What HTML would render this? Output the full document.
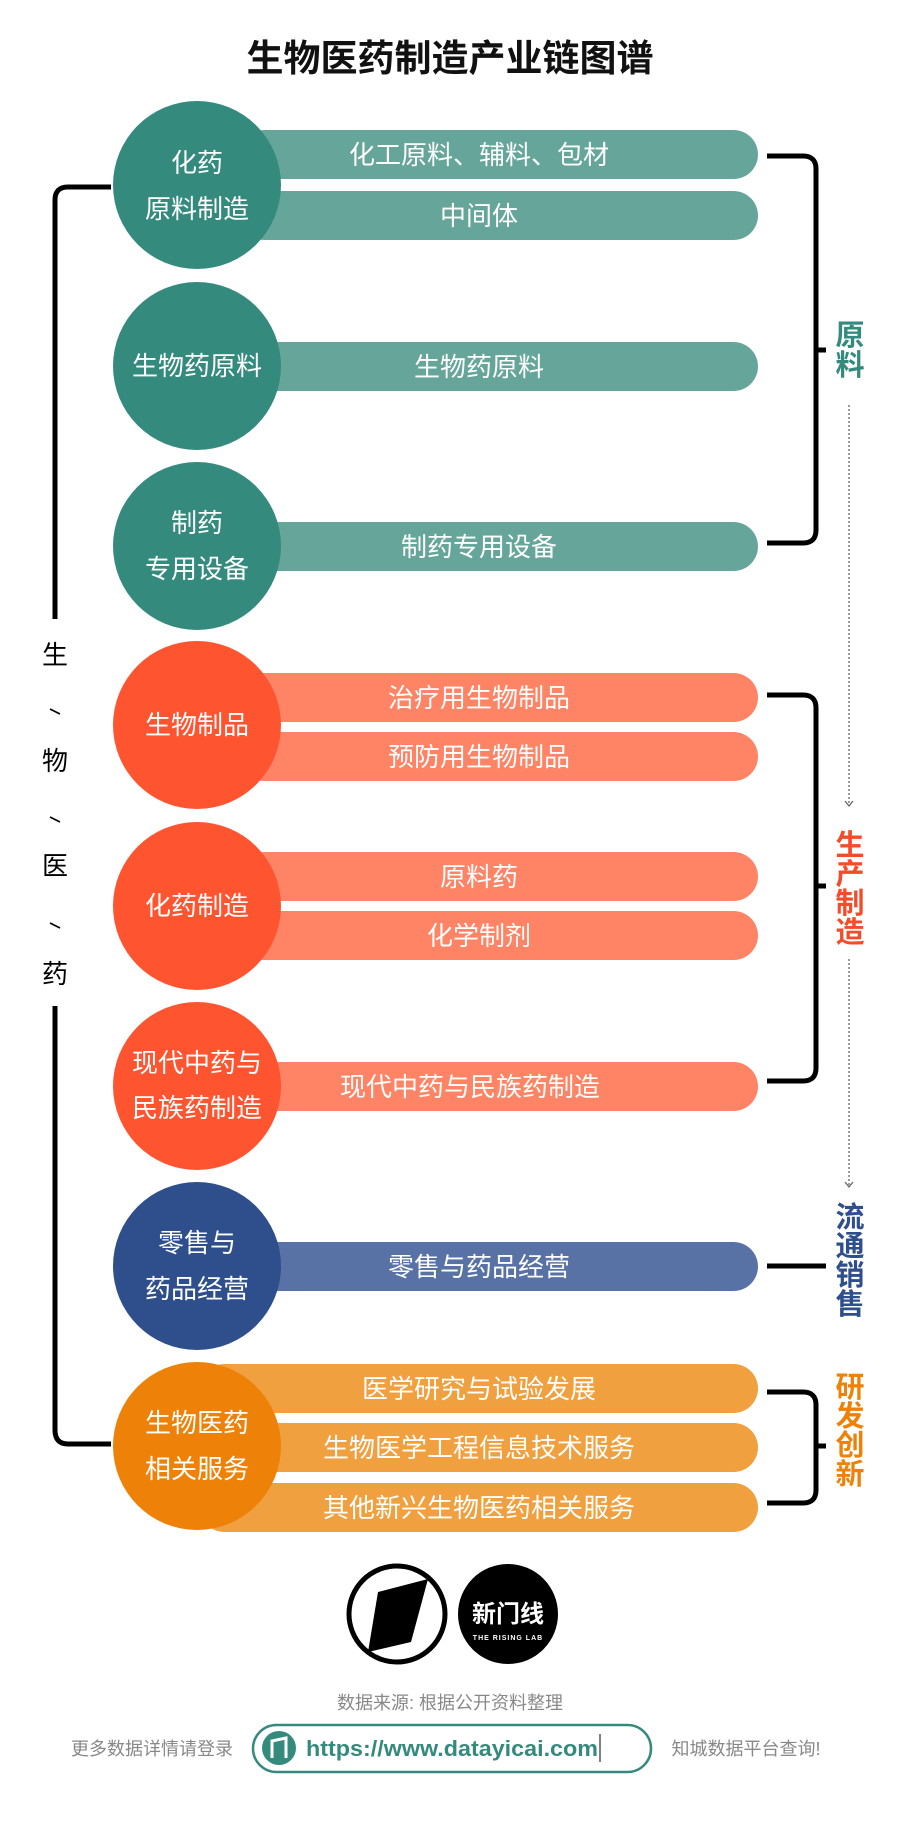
<!DOCTYPE html>
<html><head><meta charset="utf-8"><style>
html,body{margin:0;padding:0;background:#fff;}
svg{display:block;font-family:"Liberation Sans","Noto Sans CJK SC",sans-serif;}
</style></head><body>
<svg width="900" height="1824" viewBox="0 0 900 1824" xmlns="http://www.w3.org/2000/svg">
<rect width="900" height="1824" fill="#fff"/>
<text x="450" y="71" font-size="37" font-weight="bold" text-anchor="middle" fill="#111">生物医药制造产业链图谱</text>

<!-- left bracket -->
<path d="M111 187 H68 Q55 187 55 200 V619" fill="none" stroke="#000" stroke-width="5"/>
<path d="M55 1006 V1430 Q55 1444 68 1444 H111" fill="none" stroke="#000" stroke-width="5"/>
<g font-size="26" text-anchor="middle" fill="#000">
<text x="55" y="664">生</text>
<text x="55" y="770">物</text>
<text x="55" y="875">医</text>
<text x="55" y="983">药</text>
</g>
<g stroke="#000" stroke-width="1.6">
<path d="M50 709 L60 714"/><path d="M50 817 L60 822"/><path d="M50 923 L60 928"/>
</g>

<!-- bars -->
<g>
<rect x="240" y="130" width="518" height="49" rx="24.5" fill="#66a69a"/>
<rect x="240" y="191" width="518" height="49" rx="24.5" fill="#66a69a"/>
<rect x="240" y="342" width="518" height="49" rx="24.5" fill="#66a69a"/>
<rect x="240" y="522" width="518" height="49" rx="24.5" fill="#66a69a"/>
<rect x="240" y="673" width="518" height="49" rx="24.5" fill="#ff8466"/>
<rect x="240" y="732" width="518" height="49" rx="24.5" fill="#ff8466"/>
<rect x="240" y="852" width="518" height="49" rx="24.5" fill="#ff8466"/>
<rect x="240" y="911" width="518" height="49" rx="24.5" fill="#ff8466"/>
<rect x="240" y="1062" width="518" height="49" rx="24.5" fill="#ff8466"/>
<rect x="240" y="1242" width="518" height="49" rx="24.5" fill="#5872a6"/>
<rect x="200" y="1364" width="558" height="49" rx="24.5" fill="#f0a03e"/>
<rect x="240" y="1423" width="518" height="49" rx="24.5" fill="#f0a03e"/>
<rect x="200" y="1483" width="558" height="49" rx="24.5" fill="#f0a03e"/>
</g>
<g font-size="26" text-anchor="middle" fill="#fff">
<text x="479" y="164">化工原料、辅料、包材</text>
<text x="479" y="225">中间体</text>
<text x="479" y="376">生物药原料</text>
<text x="479" y="556">制药专用设备</text>
<text x="479" y="707">治疗用生物制品</text>
<text x="479" y="766">预防用生物制品</text>
<text x="479" y="886">原料药</text>
<text x="479" y="945">化学制剂</text>
<text x="470" y="1096">现代中药与民族药制造</text>
<text x="479" y="1276">零售与药品经营</text>
<text x="479" y="1398">医学研究与试验发展</text>
<text x="479" y="1457">生物医学工程信息技术服务</text>
<text x="479" y="1517">其他新兴生物医药相关服务</text>
</g>

<!-- circles -->
<circle cx="197" cy="185" r="84" fill="#358a7e"/>
<circle cx="197" cy="366" r="84" fill="#358a7e"/>
<circle cx="197" cy="546" r="84" fill="#358a7e"/>
<circle cx="197" cy="725" r="84" fill="#ff5430"/>
<circle cx="197" cy="906" r="84" fill="#ff5430"/>
<circle cx="197" cy="1086" r="84" fill="#ff5430"/>
<circle cx="197" cy="1266" r="84" fill="#2e4f8c"/>
<circle cx="197" cy="1446" r="84" fill="#ee8209"/>
<g font-size="26" text-anchor="middle" fill="#fff">
<text x="197" y="172">化药</text><text x="197" y="218">原料制造</text>
<text x="197" y="375">生物药原料</text>
<text x="197" y="532">制药</text><text x="197" y="578">专用设备</text>
<text x="197" y="734">生物制品</text>
<text x="197" y="915">化药制造</text>
<text x="197" y="1072">现代中药与</text><text x="197" y="1117">民族药制造</text>
<text x="197" y="1252">零售与</text><text x="197" y="1298">药品经营</text>
<text x="197" y="1432">生物医药</text><text x="197" y="1478">相关服务</text>
</g>

<!-- right brackets -->
<g fill="none" stroke="#000" stroke-width="5">
<path d="M767 156 H803 Q816 156 816 169 V530 Q816 543 803 543 H767"/>
<path d="M816 350 H826"/>
<path d="M767 695 H803 Q816 695 816 708 V1068 Q816 1081 803 1081 H767"/>
<path d="M816 886 H826"/>
<path d="M767 1266 H826"/>
<path d="M767 1392 H803 Q816 1392 816 1405 V1490 Q816 1503 803 1503 H767"/>
<path d="M816 1446 H826"/>
</g>
<g font-size="29" font-weight="bold" text-anchor="middle">
<text x="850" y="345" fill="#358a7e">原</text><text x="850" y="375" fill="#358a7e">料</text>
<text x="850" y="855" fill="#f44b28">生</text><text x="850" y="884" fill="#f44b28">产</text><text x="850" y="913" fill="#f44b28">制</text><text x="850" y="942" fill="#f44b28">造</text>
<text x="850" y="1227" fill="#2e4f8c">流</text><text x="850" y="1256" fill="#2e4f8c">通</text><text x="850" y="1285" fill="#2e4f8c">销</text><text x="850" y="1314" fill="#2e4f8c">售</text>
<text x="850" y="1397" fill="#ee8209">研</text><text x="850" y="1426" fill="#ee8209">发</text><text x="850" y="1455" fill="#ee8209">创</text><text x="850" y="1484" fill="#ee8209">新</text>
</g>
<g stroke="#666" stroke-width="1.3" fill="none">
<path d="M849 405 V805" stroke-dasharray="2 2"/>
<path d="M845 801 L849 806 L853 801"/>
<path d="M849 959 V1186" stroke-dasharray="2 2"/>
<path d="M845 1182 L849 1187 L853 1182"/>
</g>

<!-- logos -->
<circle cx="397" cy="1614" r="48" fill="none" stroke="#000" stroke-width="5"/>
<path d="M378 1592 L428 1579 L411 1642 L368 1652 Z" fill="#000"/>
<path d="M364 1656 L371 1666" stroke="#fff" stroke-width="6"/>
<circle cx="508" cy="1614" r="50" fill="#000"/>
<text x="508" y="1622" font-size="24" font-weight="bold" fill="#fff" text-anchor="middle">新门线</text>
<text x="508" y="1640" font-size="7" font-weight="bold" fill="#fff" text-anchor="middle" letter-spacing="1">THE RISING LAB</text>

<text x="450" y="1709" font-size="18" fill="#888" text-anchor="middle">数据来源: 根据公开资料整理</text>
<text x="152" y="1755" font-size="18" fill="#888" text-anchor="middle">更多数据详情请登录</text>
<text x="746" y="1755" font-size="18" fill="#888" text-anchor="middle">知城数据平台查询!</text>
<rect x="253" y="1725" width="398" height="47" rx="23.5" fill="none" stroke="#358a7e" stroke-width="2.5"/>
<circle cx="279" cy="1748" r="17" fill="#358a7e"/>
<path d="M272 1758 V1741 L286 1738 V1758" fill="none" stroke="#fff" stroke-width="3"/>
<text x="306" y="1756" font-size="22" font-weight="bold" fill="#358a7e" textLength="292" lengthAdjust="spacingAndGlyphs">https://www.datayicai.com</text>
<path d="M600 1734 V1762" stroke="#000" stroke-width="1"/>
</svg>
</body></html>
